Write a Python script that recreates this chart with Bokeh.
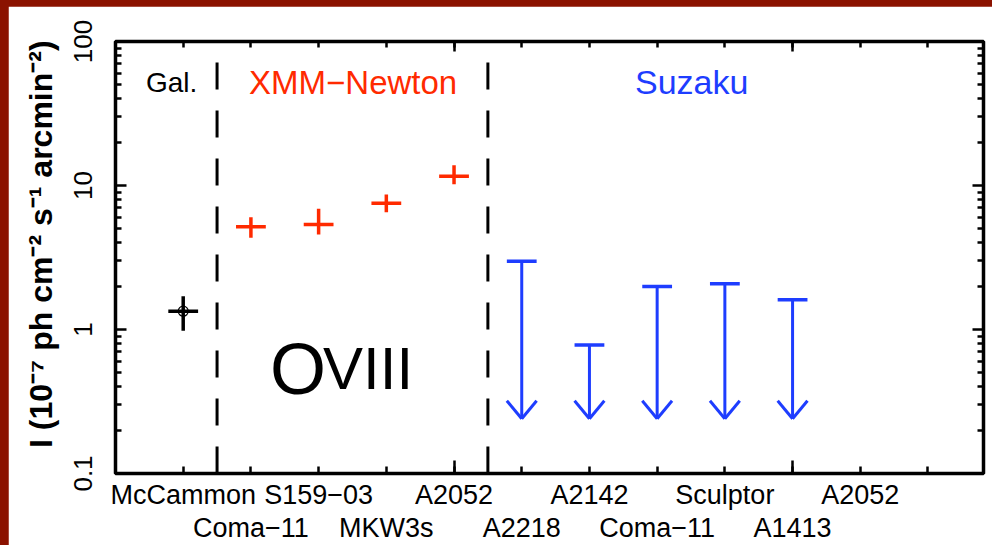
import math
from bokeh.plotting import figure
from bokeh.models import FixedTicker, LinearAxis, LogAxis, Range1d, CustomJSTickFormatter
from bokeh.embed import file_html
from bokeh.resources import INLINE
from bokeh.core.properties import value

# ---------------- data ----------------
positions = [1, 2, 3, 4, 5, 6, 7, 8, 9, 10, 11]
target_labels = ["McCammon", "Coma\u221211", "S159\u221203", "MKW3s", "A2052",
                 "A2218", "A2142", "Coma\u221211", "Sculptor", "A1413", "A2052"]

gal_x = [1]
gal_y = [1.34]
gal_lo = [0.98]
gal_hi = [1.70]

xmm_x = [2, 3, 4, 5]
xmm_y = [5.17, 5.36, 7.54, 11.6]
xmm_lo = [4.33, 4.57, 6.53, 10.2]
xmm_hi = [6.02, 6.89, 8.66, 13.8]

suz_x = [6, 7, 8, 9, 10]
suz_ul = [2.98, 0.78, 1.99, 2.08, 1.61]
suz_floor = 0.24

dividers = [1.5, 5.5]
group_names = ["Gal.", "XMM\u2212Newton", "Suzaku"]
group_x = [0.83, 3.51, 8.51]

y_major = [0.1, 1, 10, 100]
y_major_labels = ["0.1", "1", "10", "100"]
y_title = "I (10\u207b\u2077 ph cm\u207b\u00b2 s\u207b\u00b9 arcmin\u207b\u00b2)"

# ---------------- style ----------------
RED = "#FF2A00"
BLUE = "#1E3DFF"
FONT = "Liberation Sans"
HALF = 0.22          # half width of the horizontal bars (x units)
HEAD = 10 ** (18 / 144)  # arrow head height factor on log axis

x_lo, x_hi = 0, 12.82
y_lo, y_hi = 0.1, 100

p = figure(width=984, height=539, x_range=Range1d(x_lo, x_hi), y_range=Range1d(y_lo, y_hi),
           y_axis_type="log", output_backend="svg", toolbar_location=None,
           min_border_left=107, min_border_right=9, min_border_top=35, min_border_bottom=72)
p.grid.visible = False
p.background_fill_color = "white"
p.border_fill_color = "white"
p.outline_line_color = "black"
p.outline_line_width = 3.5

minor_y = [k * 10 ** d for d in (-1, 0, 1) for k in range(2, 10)]
minor_x = list(range(1, 13))

def tick_style(ax, major_len, minor_len):
    ax.axis_line_color = None
    ax.major_tick_in = major_len
    ax.major_tick_out = 0
    ax.minor_tick_in = minor_len
    ax.minor_tick_out = 0
    ax.major_tick_line_width = 2.5
    ax.minor_tick_line_width = 2.5
    ax.major_tick_line_color = "black"
    ax.minor_tick_line_color = "black"

def no_labels(ax):
    ax.formatter = CustomJSTickFormatter(code="return ''")
    ax.major_label_text_font_size = "1px"
    ax.major_label_standoff = 0

# bottom tick axis (no labels)
bx = p.xaxis[0]
bx.ticker = FixedTicker(ticks=[5, 10], minor_ticks=minor_x)
tick_style(bx, 13, 7)
no_labels(bx)

# top axis
tx = LinearAxis(ticker=FixedTicker(ticks=[5, 10], minor_ticks=minor_x))
tick_style(tx, 10, 6)
no_labels(tx)
p.add_layout(tx, "above")

# label rows below
odd = {x: t for x, t in zip(positions, target_labels) if x % 2 == 1}
even = {x: t for x, t in zip(positions, target_labels) if x % 2 == 0}
for ticks, overrides, standoff in ((list(odd), odd, 6), (list(even), even, 0)):
    ax = LinearAxis(ticker=FixedTicker(ticks=ticks), major_label_overrides=overrides)
    ax.axis_line_color = None
    ax.major_tick_line_color = None
    ax.minor_tick_line_color = None
    ax.major_tick_out = 0
    ax.major_tick_in = 0
    ax.major_label_standoff = standoff
    ax.major_label_text_font = FONT
    ax.major_label_text_font_size = "27px"
    ax.major_label_text_color = "black"
    p.add_layout(ax, "below")

# left axis
ly = p.yaxis[0]
ly.ticker = FixedTicker(ticks=y_major, minor_ticks=minor_y)
ly.major_label_overrides = dict(zip(y_major, y_major_labels))
tick_style(ly, 11, 6)
ly.major_label_orientation = "vertical"
ly.major_label_text_font = FONT
ly.major_label_text_font_size = "26px"
ly.major_label_text_color = "black"
ly.major_label_standoff = 24
ly.axis_label = "\u00a0\u00a0\u00a0" + y_title
ly.axis_label_text_font = FONT
ly.axis_label_text_font_style = "bold"
ly.axis_label_text_font_size = "32px"
ly.axis_label_text_color = "black"
ly.axis_label_standoff = 12

# right axis
ry = LogAxis(ticker=FixedTicker(ticks=y_major, minor_ticks=minor_y))
tick_style(ry, 11, 6)
no_labels(ry)
p.add_layout(ry, "right")

# dividers
p.segment(x0=dividers, y0=[y_lo] * len(dividers), x1=dividers, y1=[y_hi] * len(dividers),
          line_color="black", line_width=3, line_dash="27 21")

# Gal. point
p.segment(x0=gal_x, y0=gal_lo, x1=gal_x, y1=gal_hi, line_color="black", line_width=3.5)
p.segment(x0=[x - HALF for x in gal_x], y0=gal_y, x1=[x + HALF for x in gal_x], y1=gal_y,
          line_color="black", line_width=3.5)
p.scatter(gal_x, gal_y, marker="circle", size=10, fill_color=None, line_color="black", line_width=1.2)

# XMM points
p.segment(x0=xmm_x, y0=xmm_lo, x1=xmm_x, y1=xmm_hi, line_color=RED, line_width=3.5)
p.segment(x0=[x - HALF for x in xmm_x], y0=xmm_y, x1=[x + HALF for x in xmm_x], y1=xmm_y,
          line_color=RED, line_width=3.5)

# Suzaku upper limits
n = len(suz_x)
p.segment(x0=[x - HALF for x in suz_x], y0=suz_ul, x1=[x + HALF for x in suz_x], y1=suz_ul,
          line_color=BLUE, line_width=3.5)
p.segment(x0=suz_x, y0=suz_ul, x1=suz_x, y1=[suz_floor] * n, line_color=BLUE, line_width=3)
p.segment(x0=[x - HALF for x in suz_x], y0=[suz_floor * HEAD] * n, x1=suz_x, y1=[suz_floor] * n,
          line_color=BLUE, line_width=3)
p.segment(x0=[x + HALF for x in suz_x], y0=[suz_floor * HEAD] * n, x1=suz_x, y1=[suz_floor] * n,
          line_color=BLUE, line_width=3)

# group titles
title_sizes = ["28px", "33px", "34px"]
title_colors = ["black", RED, BLUE]
for name, gx, fs, col in zip(group_names, group_x, title_sizes, title_colors):
    p.text(x=[gx], y=[52], text=[name], text_align="center", text_baseline="alphabetic",
           text_font=value(FONT), text_font_size=fs, text_color=col)

# O VIII label
ion_x, ion_y = 2.283, 0.536
p.text(x=[ion_x], y=[ion_y], text=["O"], text_align="left", text_baseline="alphabetic",
       text_font=value(FONT), text_font_size="72px", text_color="black")
p.text(x=[ion_x], y=[ion_y], text=["VIII"], x_offset=53, text_align="left", text_baseline="alphabetic",
       text_font=value(FONT), text_font_size="60px", text_color="black")

html = file_html(p, INLINE)
css = ("<style>html,body{margin:0 !important;padding:0;overflow:hidden;width:992px;height:545px;}"
       "body{background-color:#8B1200;padding:6px 0 0 8px !important;box-sizing:border-box;}</style>")
html = html.replace("</head>", css + "</head>", 1)
open("out.html", "w").write(html)
